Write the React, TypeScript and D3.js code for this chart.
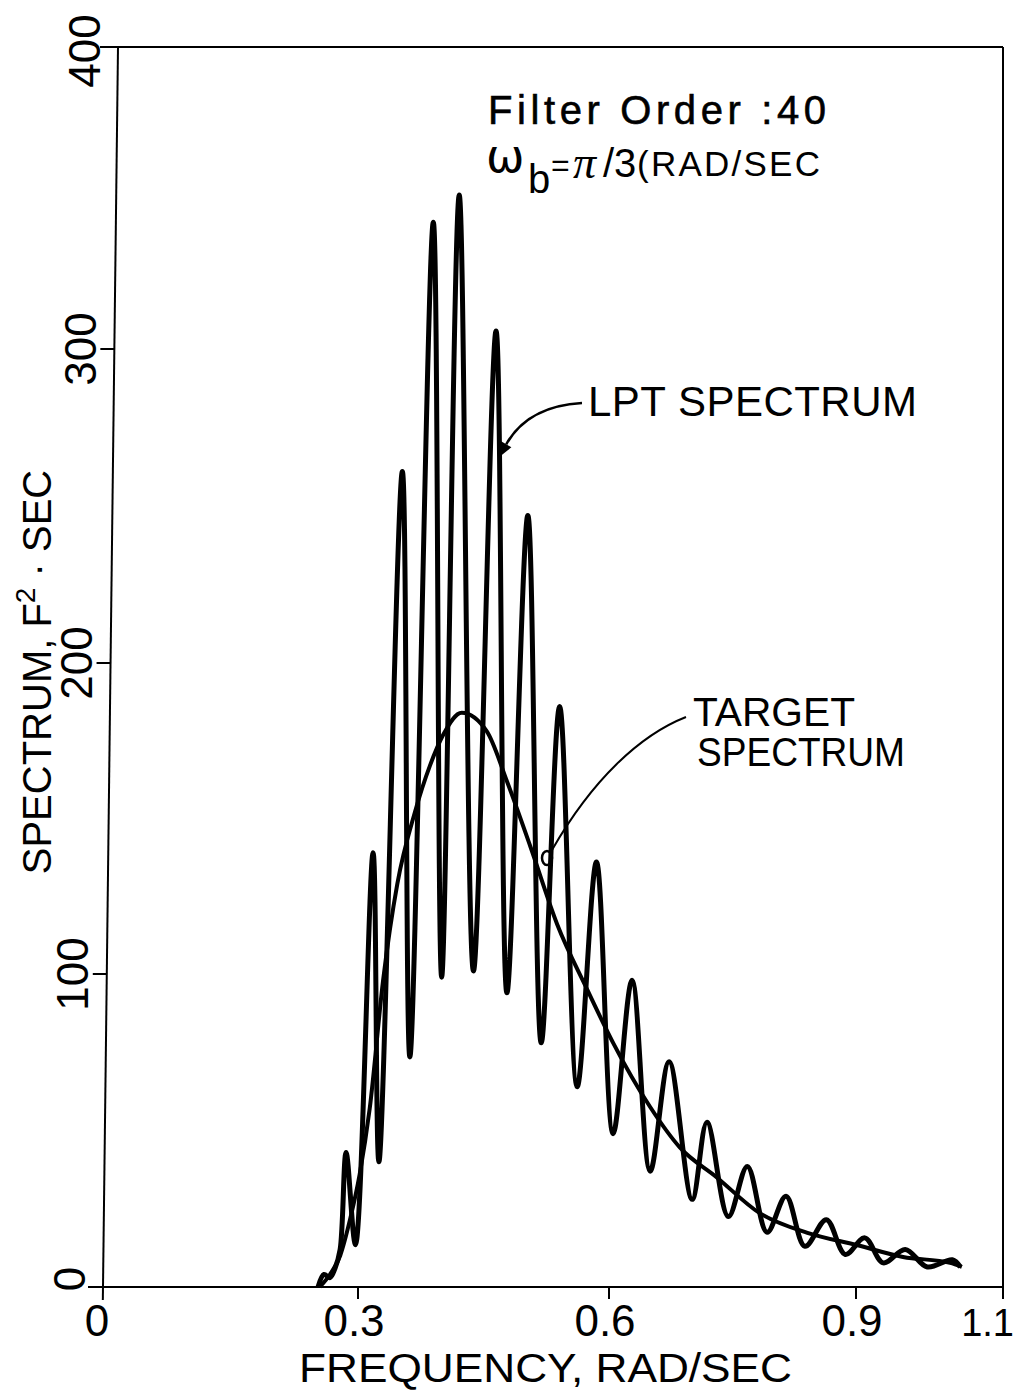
import React from "react";
import * as d3 from "d3";

const xTicks = [0, 0.3, 0.6, 0.9, 1.1];
const xTickLabels = ["0", "0.3", "0.6", "0.9", "1.1"];
const yTicks = [0, 100, 200, 300, 400];
const yTickLabels = ["0", "100", "200", "300", "400"];

// LPT spectrum (frequency rad/s, spectrum F^2.sec)
const lptFreq = [0.253, 0.26, 0.267, 0.273, 0.279, 0.286, 0.297, 0.318, 0.325, 0.353, 0.362, 0.39, 0.4, 0.421, 0.438, 0.465, 0.478, 0.503, 0.519, 0.541, 0.562, 0.585, 0.605, 0.628, 0.65, 0.673, 0.701, 0.719, 0.745, 0.768, 0.792, 0.815, 0.838, 0.864, 0.887, 0.912, 0.937, 0.967, 0.997, 1.031, 1.042];
const lptValue = [0, 4, 3, 6, 12, 43, 13.5, 139, 40, 261, 73.5, 342, 99, 351, 101, 306, 94, 247, 78, 186, 64, 136, 49, 98, 37, 72, 28, 52.6, 22.5, 38.5, 17.5, 29, 13, 21.5, 10.4, 15.7, 7.7, 12, 6.4, 8.7, 6.4];

// Target spectrum
const targetFreq = [0.255, 0.267, 0.279, 0.291, 0.302, 0.314, 0.33, 0.347, 0.368, 0.386, 0.402, 0.424, 0.454, 0.478, 0.506, 0.538, 0.574, 0.605, 0.65, 0.686, 0.731, 0.783, 0.841, 0.901, 0.964, 1.028, 1.044];
const targetValue = [0, 4, 10, 22, 36, 57, 98, 129, 152, 167, 177, 184, 178, 162, 141, 116, 95, 78, 57.5, 44.6, 35, 23.6, 17.3, 13.4, 9.6, 7.7, 6.4];

const FONT = "'Liberation Sans', Arial, sans-serif";

export default function App() {
  const W = 1018;
  const H = 1391;
  const x = d3.scaleLinear().domain(xTicks).range([103, 358, 609, 856, 1003]);
  const y = d3.scaleLinear().domain(yTicks).range([1287, 974, 663, 349, 47]);
  // slight skew of the scanned left axis
  const axisX = (py: number) => 103 + (1287 - py) * (15 / 1240);

  const lpt: [number, number][] = lptFreq.map((f, i) => [f, lptValue[i]]);
  const tgt: [number, number][] = targetFreq.map((f, i) => [f, targetValue[i]]);

  const lptLine = d3
    .line<[number, number]>()
    .x((d) => x(d[0]))
    .y((d) => y(d[1]))
    .curve(d3.curveCatmullRom.alpha(0.5));
  const tgtLine = d3
    .line<[number, number]>()
    .x((d) => x(d[0]))
    .y((d) => y(d[1]))
    .curve(d3.curveMonotoneX);

  const top = y(400);
  const bottom = y(0);
  const right = x(1.1);

  // arrowhead for the LPT leader
  const tip = [498, 458];
  const ctrl = [528, 408];
  const ang = Math.atan2(tip[1] - ctrl[1], tip[0] - ctrl[0]);
  const aL = 16;
  const aW = 6;
  const bx = tip[0] - aL * Math.cos(ang);
  const by = tip[1] - aL * Math.sin(ang);
  const arrow = `M${tip[0]},${tip[1]} L${bx + aW * Math.sin(ang)},${by - aW * Math.cos(ang)} L${bx - aW * Math.sin(ang)},${by + aW * Math.cos(ang)} Z`;

  return (
    <svg
      width={W}
      height={H}
      style={{ position: "absolute", left: 0, top: 0, background: "#fff" }}
      fontFamily={FONT}
    >
      <rect x={0} y={0} width={W} height={H} fill="#fff" />

      {/* frame */}
      <line x1={axisX(top) - 18} y1={top} x2={right} y2={top} stroke="#000" strokeWidth={2} />
      <line x1={right} y1={top} x2={right} y2={bottom + 12} stroke="#000" strokeWidth={2} />
      <line x1={axisX(bottom) - 15} y1={bottom} x2={right} y2={bottom} stroke="#000" strokeWidth={2} />
      <line x1={axisX(bottom + 13)} y1={bottom + 13} x2={axisX(top)} y2={top} stroke="#000" strokeWidth={2} />

      {/* y ticks */}
      {yTicks.slice(1, 4).map((t) => (
        <line key={"yt" + t} x1={axisX(y(t)) - 14} y1={y(t)} x2={axisX(y(t))} y2={y(t)} stroke="#000" strokeWidth={2} />
      ))}
      {yTicks.map((t, i) => {
        const cx = axisX(y(t)) - 34;
        const cy = y(t) + (t === 0 ? -8 : t === 400 ? 4 : 0);
        return (
          <text
            key={"yl" + t}
            transform={`translate(${cx},${cy}) rotate(-90)`}
            textAnchor="middle"
            dominantBaseline="central"
            fontSize={44}
          >
            {yTickLabels[i]}
          </text>
        );
      })}

      {/* x ticks */}
      {xTicks.slice(1, 4).map((t) => (
        <line key={"xt" + t} x1={x(t)} y1={bottom} x2={x(t)} y2={bottom + 12} stroke="#000" strokeWidth={2} />
      ))}
      {xTicks.map((t, i) =>
        t === 1.1 ? (
          <text key={"xl" + t} x={1014} y={1336} textAnchor="end" fontSize={38}>
            {xTickLabels[i]}
          </text>
        ) : (
          <text key={"xl" + t} x={x(t) - (t === 0 ? 6 : 4)} y={1336} textAnchor="middle" fontSize={44}>
            {xTickLabels[i]}
          </text>
        )
      )}

      {/* axis titles */}
      <text x={299} y={1382} fontSize={40} textLength={493} lengthAdjust="spacingAndGlyphs">
        FREQUENCY, RAD/SEC
      </text>
      <text transform="translate(51,672) rotate(-90)" textAnchor="middle" fontSize={40}>
        <tspan>SPECTRUM, F</tspan>
        <tspan dy={-16} fontSize={28}>2</tspan>
        <tspan dy={16}> · SEC</tspan>
      </text>

      {/* curves */}
      <path d={tgtLine(tgt) || ""} fill="none" stroke="#000" strokeWidth={4} strokeLinejoin="round" />
      <path d={lptLine(lpt) || ""} fill="none" stroke="#000" strokeWidth={5} strokeLinejoin="round" />

      {/* annotations */}
      <text x={488} y={124} fontSize={40} textLength={338} lengthAdjust="spacing" stroke="#000" strokeWidth={0.6}>
        Filter Order :40
      </text>
      <text x={486} y={172} fontSize={46} fontFamily="'DejaVu Sans', sans-serif">ω</text>
      <text x={528} y={193} fontSize={40}>b</text>
      <text x={551} y={176} fontSize={32}>=</text>
      <text x={573} y={178} fontSize={46} fontFamily="'Liberation Serif', serif" fontStyle="italic">π</text>
      <text x={603} y={177} fontSize={40}>/3</text>
      <text x={637} y={176} fontSize={35} textLength={183} lengthAdjust="spacing">(RAD/SEC</text>

      <text x={588} y={416} fontSize={42} textLength={329} lengthAdjust="spacing">LPT SPECTRUM</text>
      <path d={`M582,403 Q${ctrl[0]},${ctrl[1] - 2} ${bx},${by}`} fill="none" stroke="#000" strokeWidth={2.5} />
      <path d={arrow} fill="#000" />

      <text x={693} y={726} fontSize={40} textLength={162} lengthAdjust="spacingAndGlyphs">TARGET</text>
      <text x={697} y={766} fontSize={40} textLength={208} lengthAdjust="spacingAndGlyphs">SPECTRUM</text>
      <path d="M686,717 C640,735 592,780 552,850" fill="none" stroke="#000" strokeWidth={2} />
      <ellipse cx={547} cy={858} rx={5} ry={7} fill="none" stroke="#000" strokeWidth={2.5} />
    </svg>
  );
}
